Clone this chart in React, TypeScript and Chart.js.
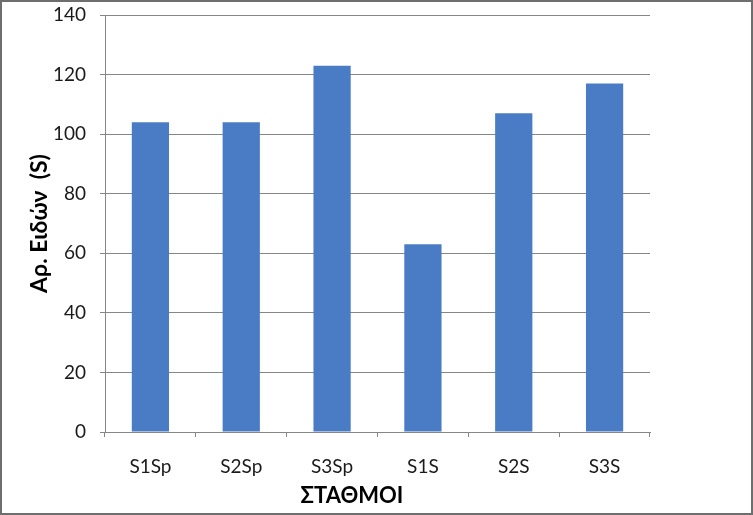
import React, { useEffect, useRef } from "react";
import { Chart, registerables } from "chart.js";

Chart.register(...registerables);

const categories = ["S1Sp", "S2Sp", "S3Sp", "S1S", "S2S", "S3S"];
const speciesCounts = [104, 104, 123, 63, 107, 117];
const yTitle = "Αρ. Ειδών  (S)";
const xTitle = "ΣΤΑΘΜΟΙ";

const FONT = "Lato, 'Open Sans', sans-serif";

const frameAndTitlePlugin = {
  id: "frameAndTitle",
  afterDraw(chart: any) {
    const ctx = chart.ctx;
    ctx.save();
    ctx.strokeStyle = "#6e6e6e";
    ctx.lineWidth = 2;
    ctx.strokeRect(1, 1, chart.width - 2, chart.height - 2);
    ctx.fillStyle = "#000";
    ctx.font = `bold 22px ${FONT}`;
    ctx.textAlign = "center";
    ctx.textBaseline = "middle";
    ctx.fillText(xTitle, 352, 496);
    ctx.restore();
  },
};

export default function App() {
  const ref = useRef<HTMLCanvasElement>(null);
  useEffect(() => {
    if (!ref.current) return;
    const chart = new Chart(ref.current, {
      type: "bar",
      data: {
        labels: categories,
        datasets: [
          {
            data: speciesCounts,
            backgroundColor: "#4a7cc5",
            borderWidth: 0,
            categoryPercentage: 1,
            barPercentage: 0.41,
          },
        ],
      },
      plugins: [frameAndTitlePlugin],
      options: {
        animation: false,
        responsive: false,
        devicePixelRatio: 1,
        layout: { padding: { left: 0, top: 15, right: 103, bottom: 0 } },
        plugins: { legend: { display: false }, tooltip: { enabled: false } },
        scales: {
          x: {
            offset: true,
            grid: {
              offset: true,
              drawOnChartArea: false,
              tickLength: 5,
              color: "#868686",
            },
            border: { color: "#868686" },
            ticks: {
              color: "#1a1a1a",
              font: { family: FONT, size: 19 },
              padding: 18,
            },
            afterFit: (s: any) => {
              s.height = 83;
              s.paddingLeft = 0;
              s.paddingRight = 0;
            },
          },
          y: {
            min: 0,
            max: 140,
            ticks: {
              stepSize: 20,
              color: "#1a1a1a",
              font: { family: FONT, size: 19 },
              padding: 14,
            },
            grid: { color: "#868686", tickLength: 5 },
            border: { color: "#868686" },
            title: {
              display: true,
              text: yTitle,
              color: "#000",
              font: { family: FONT, size: 23, weight: "bold" },
              padding: { top: 26, bottom: 0 },
            },
            afterFit: (s: any) => {
              s.width = 105;
              s.paddingTop = 0;
              s.paddingBottom = 0;
            },
          },
        },
      },
    });
    return () => chart.destroy();
  }, []);
  return (
    <div style={{ position: "absolute", left: 0, top: 0, width: 753, height: 515, background: "#fff" }}>
      <canvas ref={ref} width={753} height={515} />
    </div>
  );
}
